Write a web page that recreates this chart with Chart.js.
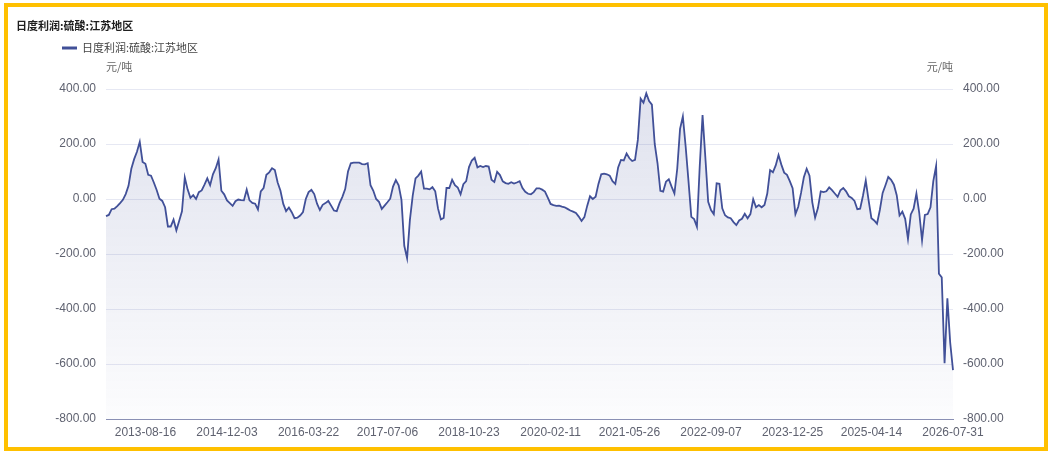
<!DOCTYPE html>
<html>
<head>
<meta charset="utf-8">
<script src="https://cdn.jsdelivr.net/npm/chart.js@4.4.1/dist/chart.umd.min.js"></script>
<style>
  html, body { margin: 0; padding: 0; background: #ffffff; }
  #wrap { position: relative; width: 1052px; height: 454px; }
  #frame { position: absolute; left: 4px; top: 3px; width: 1044px; height: 448px; box-sizing: border-box; border: 4px solid #FFC000; pointer-events: none; }
  canvas { position: absolute; left: 0; top: 0; }
</style>
</head>
<body>
<div id="wrap">
  <canvas id="c" width="1052" height="454"></canvas>
  <div id="frame"></div>
</div>
<script>
const chartTitle = '日度利润:硫酸:江苏地区';
const seriesName = '日度利润:硫酸:江苏地区';
const unitLabel = '元/吨';
const tickLabels = ['2013-08-16','2014-12-03','2016-03-22','2017-07-06','2018-10-23','2020-02-11','2021-05-26','2022-09-07','2023-12-25','2025-04-14','2026-07-31'];
// sample index at which each tick date falls
const tickIndex = [14, 43, 72, 100, 129, 158, 186, 215, 244, 272, 301];
const yTicks = [-800, -600, -400, -200, 0, 200, 400];
const profit = [
  -62,-58,-37,-35,-26,-15,-3,18,48,110,
  145,172,208,135,128,88,85,60,33,1,
  -7,-30,-100,-100,-75,-114,-80,-45,78,35,
  4,14,0,25,31,52,75,50,90,112,
  144,30,17,-5,-15,-25,-8,-2,-4,-5,
  34,-5,-14,-17,-38,28,40,88,97,112,
  105,60,30,-18,-44,-31,-48,-70,-68,-60,
  -48,0,25,33,18,-17,-40,-21,-15,-7,
  -24,-42,-44,-15,8,36,100,130,132,132,
  132,127,126,130,50,30,0,-10,-36,-24,
  -12,1,45,69,50,-3,-170,-215,-76,12,
  75,85,100,38,38,35,43,28,-35,-74,
  -69,40,40,70,50,42,17,54,65,116,
  140,150,115,120,116,120,118,70,62,99,
  87,64,58,55,61,56,60,65,40,26,
  19,17,25,39,39,34,27,5,-18,-22,
  -25,-24,-28,-30,-36,-42,-46,-51,-64,-80,
  -66,-25,10,0,8,55,90,92,90,85,
  65,55,115,142,140,165,148,138,142,215,
  365,350,384,356,343,200,130,30,27,63,
  72,45,20,110,255,300,190,65,-65,-73,
  -101,120,305,150,-10,-40,-55,57,55,-34,
  -59,-67,-70,-84,-95,-78,-72,-54,-70,-55,
  -1,-30,-22,-30,-22,20,105,97,122,160,
  125,96,88,65,39,-55,-28,22,79,110,
  85,-12,-68,-33,28,25,28,42,32,20,
  8,32,40,28,10,4,-7,-37,-35,12,
  67,-4,-70,-78,-90,-40,22,50,80,70,
  52,14,-60,-46,-72,-145,-56,-35,20,-50,
  -150,-58,-55,-30,65,120,-272,-285,-597,-361,
  -522,-622
];

// one date per sample, read between the known tick dates
const categories = (function () {
  const ms = tickLabels.map(s => Date.parse(s + 'T00:00:00Z'));
  const out = [];
  for (let i = 0; i < profit.length; i++) {
    let k = 0;
    while (k < tickIndex.length - 2 && i > tickIndex[k + 1]) k++;
    const f = (i - tickIndex[k]) / (tickIndex[k + 1] - tickIndex[k]);
    const t = ms[k] + (ms[k + 1] - ms[k]) * f;
    const ti = tickIndex.indexOf(i);
    out.push(ti >= 0 ? tickLabels[ti] : new Date(Math.round(t / 86400000) * 86400000).toISOString().slice(0, 10));
  }
  return out;
})();
const tickSet = new Set(tickLabels);

const lineColor = 'rgb(65,80,152)';
const tickFont = { family: '"Liberation Sans", Arial, sans-serif', size: 12 };
const tickColor = '#5f6270';

const headerPlugin = {
  id: 'header',
  afterDraw(chart) {
    const c = chart.ctx;
    c.save();
    c.textBaseline = 'middle';
    c.textAlign = 'left';
    c.font = 'bold 11px "Noto Sans CJK SC", sans-serif';
    c.fillStyle = '#1f1f1f';
    c.fillText(chartTitle, 16, 26);
    c.strokeStyle = lineColor;
    c.lineWidth = 3;
    c.beginPath(); c.moveTo(62, 48); c.lineTo(77, 48); c.stroke();
    c.font = '11px "Noto Sans CJK SC", sans-serif';
    c.fillStyle = '#444';
    c.fillText(seriesName, 82, 48);
    c.fillStyle = '#666';
    c.fillText(unitLabel, chart.chartArea.left, 67);
    c.textAlign = 'right';
    c.fillText(unitLabel, chart.chartArea.right, 67);
    c.restore();
  }
};

new Chart(document.getElementById('c'), {
  type: 'line',
  data: {
    labels: categories,
    datasets: [{
      label: seriesName,
      data: profit,
      yAxisID: 'y',
      borderColor: lineColor,
      borderWidth: 1.8,
      pointRadius: 0,
      pointHoverRadius: 0,
      tension: 0,
      fill: 'start',
      backgroundColor: (ctx) => {
        const { chart } = ctx;
        const area = chart.chartArea;
        if (!area) return 'rgba(65,80,152,0.08)';
        const g = chart.ctx.createLinearGradient(0, area.top, 0, area.bottom);
        g.addColorStop(0, 'rgba(65,80,152,0.17)');
        g.addColorStop(1, 'rgba(65,80,152,0.015)');
        return g;
      }
    }]
  },
  options: {
    responsive: false,
    animation: false,
    devicePixelRatio: 1,
    layout: { padding: { top: 89, left: 0, right: 0, bottom: 0 } },
    plugins: { legend: { display: false }, title: { display: false }, tooltip: { enabled: false } },
    scales: {
      x: {
        type: 'category',
        offset: false,
        grid: { display: false, drawTicks: false },
        border: { display: true, color: '#8a90b4', width: 1 },
        ticks: {
          autoSkip: false, maxRotation: 0, minRotation: 0, padding: 6,
          font: tickFont, color: tickColor,
          callback: function (v, i) { const l = categories[i]; return tickSet.has(l) ? l : ''; }
        },
        afterFit: (s) => { s.height = 35; }
      },
      y: {
        position: 'left',
        min: -800, max: 400,
        afterBuildTicks: (s) => { s.ticks = yTicks.map(v => ({ value: v })); },
        grid: { color: '#e6e8f3', drawTicks: false, lineWidth: 1 },
        border: { display: false },
        ticks: { padding: 10, font: tickFont, color: tickColor, callback: (v) => Number(v).toFixed(2) },
        afterFit: (s) => { s.width = 106; }
      },
      y2: {
        position: 'right',
        min: -800, max: 400,
        afterBuildTicks: (s) => { s.ticks = yTicks.map(v => ({ value: v })); },
        grid: { display: false, drawTicks: false },
        border: { display: false },
        ticks: { padding: 10, font: tickFont, color: tickColor, callback: (v) => Number(v).toFixed(2) },
        afterFit: (s) => { s.width = 99; }
      }
    }
  },
  plugins: [headerPlugin]
});
</script>
</body>
</html>
